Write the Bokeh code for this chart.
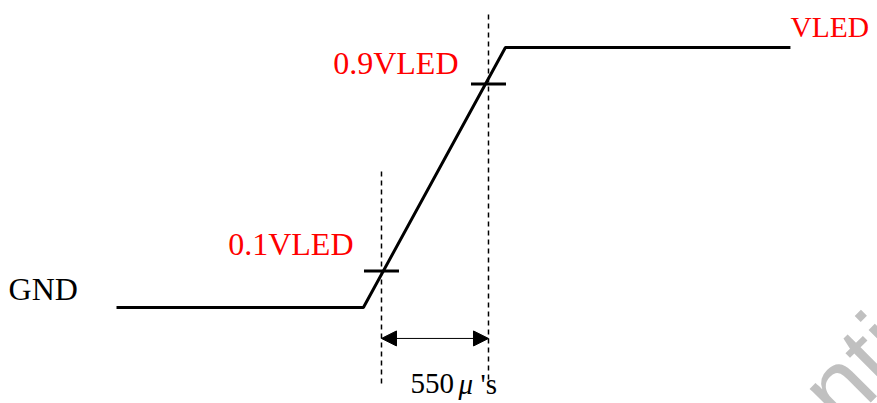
import numpy as np
from bokeh.plotting import figure
from bokeh.models import Range1d, Arrow, NormalHead
from bokeh.core.properties import value
from bokeh.embed import file_html
from bokeh.resources import INLINE

# --- waveform (time in microseconds, level as fraction of VLED) ---
time_us = [-1362, -93, 637, 2102]
level = [0.0, 0.0, 1.0, 1.0]

# 10% / 90% crossing markers
marker_time = [0, 550]
marker_level = [0.14, 0.86]
marker_names = ["0.1VLED", "0.9VLED"]

# dashed guide lines (top / bottom levels)
guide_top = [0.535, 1.142]
guide_bottom = [-0.292, -0.277]

rise_time_label = ["550", "\u03bc", "'s"]
arrow_level = -0.119

SERIF = value("Liberation Serif")
FS = "32px"
DY = 0.042  # label lift

p = figure(width=877, height=403, output_backend="svg", toolbar_location=None,
           x_range=Range1d(-1958.3, 2549.5), y_range=Range1d(-0.3692, 1.1808),
           x_axis_type=None, y_axis_type=None, min_border=0,
           outline_line_color=None, background_fill_color="white",
           border_fill_color="white")
p.xgrid.visible = False
p.ygrid.visible = False

# watermark
p.text(x=[989], y=[-1.317], text=["Confidential"], angle=np.pi / 4,
       text_font=value("Liberation Sans"), text_font_size="100px",
       text_color="#c0c0c0", text_align="left", text_baseline="alphabetic")

# guides
p.segment(x0=marker_time, y0=guide_bottom, x1=marker_time, y1=guide_top,
          line_color="black", line_width=1.5, line_dash="5 4")

# waveform
p.line(time_us, level, line_color="black", line_width=3)

# crossing ticks
p.scatter(marker_time, marker_level, marker="dash", size=35,
          line_color="black", line_width=3)

# arrow
p.add_layout(Arrow(x_start=marker_time[0], y_start=arrow_level,
                   x_end=marker_time[1], y_end=arrow_level,
                   line_width=1, line_color="black",
                   start=NormalHead(size=15, fill_color="black", line_color="black"),
                   end=NormalHead(size=15, fill_color="black", line_color="black")))

# labels
p.text(x=[-1917], y=[0.031 + DY], text=["GND"], text_font=SERIF, text_font_size=FS,
       text_color="black", text_align="left", text_baseline="alphabetic")
p.text(x=[marker_time[0]], y=[0.204 + DY], text=[marker_names[0]], x_offset=-28,
       text_font=SERIF, text_font_size=FS, text_color="#ff0000",
       text_align="right", text_baseline="alphabetic")
p.text(x=[marker_time[1]], y=[0.9 + DY], text=[marker_names[1]], x_offset=-30,
       text_font=SERIF, text_font_size=FS, text_color="#ff0000",
       text_align="right", text_baseline="alphabetic")
p.text(x=[time_us[-1]], y=[1.038 + DY], text=["VLED"],
       text_font=SERIF, text_font_size="29.5px", text_color="#ff0000",
       text_align="left", text_baseline="alphabetic")

# rise-time text
RT_FS = "29px"
RT_Y = -0.335 + DY
p.text(x=[marker_time[0]], y=[RT_Y], text=[rise_time_label[0]], x_offset=29,
       text_font=SERIF, text_font_size=RT_FS, text_color="black",
       text_align="left", text_baseline="alphabetic")
p.text(x=[marker_time[0]], y=[RT_Y], text=[rise_time_label[1]], x_offset=77,
       text_font=SERIF, text_font_size=RT_FS, text_font_style="italic",
       text_color="black", text_align="left", text_baseline="alphabetic")
p.text(x=[marker_time[0]], y=[RT_Y], text=[rise_time_label[2]], x_offset=99,
       text_font=SERIF, text_font_size=RT_FS, text_color="black",
       text_align="left", text_baseline="alphabetic")

open("out.html", "w").write(file_html(p, INLINE))
